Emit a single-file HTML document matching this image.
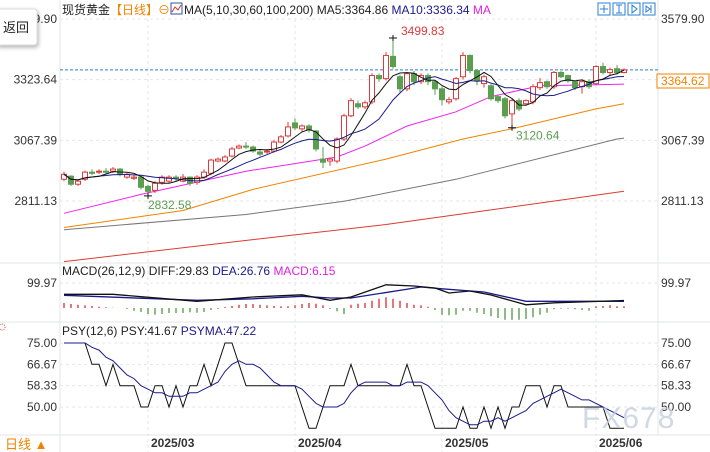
<!DOCTYPE html>
<html><head><meta charset="utf-8">
<style>
html,body{margin:0;padding:0;background:#fff;}
svg{display:block;font-family:"Liberation Sans","Noto Sans CJK SC",sans-serif;}
</style></head>
<body>
<svg id="chart" width="710" height="452" viewBox="0 0 710 452">
  <g stroke="#e3e6ea" fill="none">
    <line x1="60" y1="0" x2="60" y2="452"/>
    <line x1="658" y1="0" x2="658" y2="435"/>
    <line x1="0" y1="263" x2="710" y2="263"/>
    <line x1="0" y1="322" x2="710" y2="322"/>
    <line x1="0" y1="435" x2="710" y2="435"/>
  </g>
  <g id="grid"></g>
  <g id="main"></g>
  <g id="macd"></g>
  <g id="psy"></g>
  <g id="axes" font-size="12" fill="#333"></g>

  <text x="62" y="14" font-size="12"><tspan fill="#222">现货黄金</tspan><tspan fill="#f08300">【日线】</tspan><tspan fill="#f08300">⊖</tspan></text>
  <rect x="171" y="3" width="11" height="11" fill="#fff" stroke="#3050a0"/>
  <polyline points="172,12 175,7 178,10 181,5" fill="none" stroke="#d03030"/>
  <text x="184" y="14" font-size="12"><tspan fill="#222">MA(5,10,30,60,100,200) MA5:3364.86 </tspan><tspan fill="#1a1a8c">MA10:3336.34 </tspan><tspan fill="#e020e0">MA</tspan></text>
  <g fill="#fff" stroke="#2a7fd4">
    <rect x="598" y="3" width="12" height="12"/>
    <rect x="613" y="3" width="12" height="12"/>
    <rect x="628" y="3" width="12" height="12"/>
    <rect x="643" y="3" width="12" height="12"/>
    <path d="M604 5v8M600 9h8M619 5v8M616 5h6M616 13h6M632 5v8l5-4zM646 6v6l4-3zM651 5v8" fill="none" stroke="#2a7fd4"/>
  </g>
  <g>
    <rect x="-4" y="9" width="41" height="36" rx="3" fill="#fff" stroke="#ddd" style="filter:drop-shadow(1px 2px 2px rgba(0,0,0,.3))"/>
    <text x="3" y="32" font-size="13" fill="#222">返回</text>
  </g>
  <rect x="657" y="74" width="52" height="14" fill="#fff" stroke="#f08300"/>
  <text x="661" y="85" font-size="12" fill="#f08300">3364.62</text>

  <text x="62" y="275" font-size="12"><tspan fill="#222">MACD(26,12,9) DIFF:29.83 </tspan><tspan fill="#1a1a8c">DEA:26.76 </tspan><tspan fill="#e020e0">MACD:6.15</tspan></text>
  <text x="62" y="335" font-size="12"><tspan fill="#222">PSY(12,6) PSY:41.67 </tspan><tspan fill="#1a1a8c">PSYMA:47.22</tspan></text>
  <circle cx="2" cy="327" r="3" fill="none" stroke="#e05050" stroke-dasharray="1 1"/>

  <text x="5" y="449" font-size="13" fill="#f08300">日线 ▲</text>
  <text x="582" y="428" font-size="30" fill="#c3cedc" fill-opacity="0.8" letter-spacing="1">FX678</text>
</svg>
<script>
const opens=[2903,2916,2882,2903,2933,2933,2937,2937,2946,2912,2907,2912,2873,2856,2890,2895,2912,2895,2912,2890,2912,2928,2980,2980,3001,3035,3043,3039,3018,3018,3022,3060,3086,3141,3116,3128,3107,2988,2980,2980,3073,3171,3222,3209,3230,3341,3328,3422,3336,3285,3349,3315,3341,3315,3285,3230,3243,3336,3426,3362,3307,3298,3252,3243,3179,3235,3222,3230,3290,3315,3294,3354,3341,3315,3294,3315,3307,3379,3354,3370,3354];
const closes=[2924,2882,2895,2933,2928,2937,2933,2946,2924,2924,2912,2869,2852,2886,2912,2912,2907,2912,2886,2912,2933,2984,2988,2997,3031,3043,3039,3022,3009,3022,3060,3082,3124,3120,3128,3111,3031,2975,2988,3073,3171,3235,3209,3226,3341,3328,3426,3379,3285,3349,3315,3341,3315,3285,3239,3239,3328,3426,3362,3319,3336,3243,3235,3171,3235,3200,3235,3294,3311,3294,3354,3336,3319,3290,3315,3294,3379,3354,3366,3354,3365];
const highs=[2935,2920,2900,2940,2945,2945,2950,2955,2950,2930,2920,2915,2880,2895,2920,2920,2920,2925,2915,2920,2945,2990,2995,3005,3040,3050,3060,3045,3030,3030,3070,3090,3145,3160,3135,3135,3110,3040,2995,3080,3180,3245,3235,3235,3350,3350,3440,3499.83,3345,3355,3360,3350,3350,3320,3295,3250,3335,3440,3430,3365,3345,3305,3260,3250,3245,3245,3240,3305,3330,3320,3360,3360,3345,3320,3325,3325,3385,3395,3375,3385,3372];
const lows=[2895,2875,2875,2895,2920,2925,2925,2930,2915,2905,2900,2860,2832.58,2845,2880,2885,2895,2890,2875,2880,2905,2920,2975,2975,2995,3030,3030,3015,3000,3010,3015,3055,3080,3110,3105,3100,3020,2950,2960,2970,3065,3165,3200,3200,3220,3315,3320,3370,3270,3275,3300,3305,3300,3260,3215,3220,3235,3325,3350,3300,3290,3235,3225,3160,3120.64,3190,3215,3220,3280,3285,3285,3330,3310,3280,3265,3285,3300,3345,3340,3345,3350];
const ma30Idx=[0,11,26,39,43,49,56,61,68,76,80];
const ma30Val=[2759,2839,2937,2997,3043,3128,3188,3252,3298,3302,3305];
const ma60Idx=[0,17,27,46,57,64,76,80];
const ma60Val=[2699,2771,2860,2988,3073,3116,3200,3222];
const ma100Idx=[0,26,40,56,79,80];
const ma100Val=[2690,2754,2810,2903,3073,3077];
const ma200Idx=[0,27,46,80];
const ma200Val=[2555,2648,2712,2852];
const macdHist=[20,16,13,11,8,5,3,1,0,-4,-11,-16,-24,-27,-24,-20,-20,-20,-17,-19,-16,-8,-4,4,8,13,16,16,13,11,8,7,7,11,16,20,17,11,-4,-13,-24,13,17,20,29,37,43,37,29,20,13,11,5,-8,-27,-29,-27,-11,-11,-19,-24,-33,-40,-47,-47,-47,-44,-37,-27,-19,-5,-3,-3,-5,-8,-11,7,8,11,7,7];
const diffIdx=[0,7,19,27,34,38,41,46,50,53,55,58,61,66,70,80];
const diffVal=[55,55,27,44,53,31,44,93,88,80,60,68,52,13,21,30];
const deaIdx=[0,19,27,34,38,41,51,54,60,66,80];
const deaVal=[51,31,37,47,40,40,84,77,64,27,27];
const psy=[75,75,75,75,66.67,66.67,58.33,66.67,58.33,58.33,58.33,50,50,58.33,58.33,50,58.33,50,58.33,58.33,66.67,58.33,66.67,75,75,66.67,58.33,58.33,58.33,58.33,58.33,58.33,58.33,58.33,50,41.67,41.67,50,58.33,58.33,58.33,66.67,58.33,58.33,58.33,58.33,58.33,58.33,58.33,66.67,58.33,58.33,50,41.67,41.67,41.67,41.67,50,41.67,41.67,50,41.67,50,41.67,50,50,58.33,58.33,58.33,50,58.33,58.33,50,50,50,50,50,50,41.67,41.67,41.67];
const priceTicks=["3579.90","3323.64","3067.39","2811.13"];
const psyTicks=["75.00","66.67","58.33","50.00"];
const dateLabels=["2025/03","2025/04","2025/05","2025/06"];
const dateIdx=[12,33,54,76];

const NS="http://www.w3.org/2000/svg";
function mk(tag,attrs,parent){const e=document.createElementNS(NS,tag);for(const k in attrs)e.setAttribute(k,attrs[k]);parent.appendChild(e);return e;}
const xOf=i=>64+i*7;
const yMain=p=>19+(3579.9-p)*182/(3579.9-2811.13);
const yMacd=v=>308-v*0.25;
const yPsy=v=>343+(75-v)*64/25;
const G=document.getElementById('grid'),M=document.getElementById('main'),D=document.getElementById('macd'),P=document.getElementById('psy'),A=document.getElementById('axes');

priceTicks.forEach(t=>{const y=yMain(parseFloat(t));const l=mk('line',{x1:60,x2:658,y1:y,y2:y,stroke:'#e3e6ea','stroke-dasharray':'3 3'},G);

});
psyTicks.forEach(t=>{const y=yPsy(parseFloat(t));const l=mk('line',{x1:60,x2:658,y1:y,y2:y,stroke:'#e3e6ea','stroke-dasharray':'3 3'},G);

});
{const l=mk('line',{x1:60,x2:658,y1:yMacd(99.97),y2:yMacd(99.97),stroke:'#e3e6ea','stroke-dasharray':'3 3'},G);

}
dateIdx.forEach((i,k)=>{const x=xOf(i);const l=mk('line',{x1:x,x2:x,y1:19,y2:452,stroke:'#e3e6ea','stroke-dasharray':'3 3'},G);


const t=mk('text',{x:x+3,y:447,'font-size':12,'font-weight':'bold',fill:'#333'},A);t.textContent=dateLabels[k];

});

priceTicks.forEach((t,k)=>{const y=yMain(parseFloat(t))+4;
const a=mk('text',{x:57,y:y,'text-anchor':'end'},A);a.textContent=t;


if(k!==1){const b=mk('text',{x:661,y:y},A);b.textContent=t;

}});
psyTicks.forEach(t=>{const y=yPsy(parseFloat(t))+4;
const a=mk('text',{x:57,y:y,'text-anchor':'end'},A);a.textContent=t;


const b=mk('text',{x:661,y:y},A);b.textContent=t;

});
{const a=mk('text',{x:57,y:yMacd(99.97)+4,'text-anchor':'end'},A);a.textContent='99.97';


const b=mk('text',{x:661,y:yMacd(99.97)+4},A);b.textContent='99.97';

}

{const y=yMain(closes[closes.length-1]);const l=mk('line',{x1:60,x2:658,y1:y,y2:y,stroke:'#2a7fd4','stroke-dasharray':'3 2'},M);

}

function poly(parent,idx,vals,yf,color,name,w){const pts=idx.map((i,k)=>xOf(i)+','+yf(vals[k]).toFixed(1)).join(' ');
const p=mk('polyline',{points:pts,fill:'none',stroke:color,'stroke-width':w||1},parent);

}
function movAvg(arr,n){return arr.map((_,i)=>{const s=arr.slice(Math.max(0,i-n+1),i+1);return s.reduce((a,b)=>a+b,0)/s.length;});}
const allIdx=closes.map((_,i)=>i);

poly(M,ma200Idx,ma200Val,yMain,'#d93b2f','ma200-line');
poly(M,ma100Idx,ma100Val,yMain,'#777','ma100-line');
poly(M,ma60Idx,ma60Val,yMain,'#f08300','ma60-line');
poly(M,ma30Idx,ma30Val,yMain,'#ee22ee','ma30-line');

closes.forEach((c,i)=>{const o=opens[i],up=c>=o,col=up?'#dd3b3b':'#5b9e50',x=xOf(i);
const w=mk('line',{x1:x,x2:x,y1:yMain(highs[i]),y2:yMain(lows[i]),stroke:col},M);


const top=yMain(Math.max(o,c)),h=Math.max(1,yMain(Math.min(o,c))-top);
const r=mk('rect',{x:x-2.5,y:top,width:5,height:h,fill:up?'#fff':col,stroke:col,'stroke-width':1},M);

});

poly(M,allIdx,movAvg(closes,10),yMain,'#1a1a8c','ma10-line');
poly(M,allIdx,movAvg(closes,5),yMain,'#111','ma5-line');

function mark(i,v,label,col,dx,dy){const x=xOf(i),y=yMain(v);
const m=mk('path',{d:`M${x-4} ${y}H${x+4}M${x} ${y-3}V${y+3}`,stroke:'#111'},M);


const t=mk('text',{x:x+dx,y:y+dy,'font-size':12,fill:col},M);t.textContent=label;

}
{const hi=Math.max(...highs),hiI=highs.indexOf(hi);mark(hiI,hi,hi.toFixed(2),'#dd3b3b',8,-3);}
{const lo1=Math.min(...lows.slice(0,30)),i1=lows.indexOf(lo1);mark(i1,lo1,lo1.toFixed(2),'#5b9e50',0,13);}
{const lo2=Math.min(...lows.slice(50)),i2=lows.indexOf(lo2);mark(i2,lo2,lo2.toFixed(2),'#5b9e50',4,12);}

macdHist.forEach((v,i)=>{const x=xOf(i);
const b=mk('line',{x1:x,x2:x,y1:yMacd(0),y2:yMacd(v),stroke:v>=0?'#dd3b3b':'#5b9e50','stroke-width':1.4},D);

});
poly(D,deaIdx,deaVal,yMacd,'#1a1a8c','dea-line',1.3);
poly(D,diffIdx,diffVal,yMacd,'#111','diff-line',1.3);

poly(P,allIdx,psy,yPsy,'#111','psy-line');
poly(P,allIdx,movAvg(psy,6),yPsy,'#1a1a8c','psyma-line');
</script>
</body></html>
